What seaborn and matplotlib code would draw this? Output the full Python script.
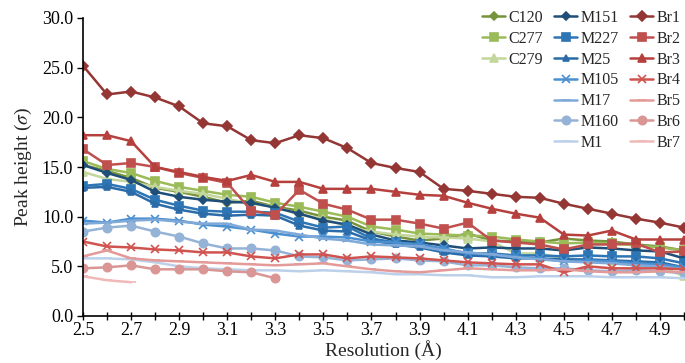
import matplotlib
matplotlib.use("Agg")
import matplotlib.pyplot as plt
from matplotlib.lines import Line2D
from matplotlib.ticker import MultipleLocator, FixedLocator
import seaborn as sns
import pandas as pd

resolution = [2.5, 2.6, 2.7, 2.8, 2.9, 3.0, 3.1, 3.2, 3.3, 3.4, 3.5, 3.6, 3.7,
              3.8, 3.9, 4.0, 4.1, 4.2, 4.3, 4.4, 4.5, 4.6, 4.7, 4.8, 4.9, 5.0]

C120 = [15.2, 14.6, 13.9, 12.9, 12.5, 12.0, 11.4, 11.6, 11.0, 10.6, 10.0, 9.6, 8.5,
        8.0, 7.6, 7.8, 8.3, 7.6, 7.5, 7.4, 7.8, 7.6, 7.5, 7.2, 7.0, 6.6]
C277 = [15.6, 14.8, 14.4, 13.6, 13.0, 12.6, 12.2, 12.0, 11.4, 11.0, 10.5, 10.0, 9.0,
        8.7, 8.3, 8.2, 8.1, 8.0, 7.7, 7.5, 7.3, 7.4, 7.3, 7.1, 6.9, 6.6]
C279 = [14.5, 13.8, 13.5, 13.0, 12.6, 12.3, 11.8, 11.3, 11.0, 10.2, 9.8, 9.0, 8.5,
        8.2, 8.0, 7.9, 7.8, 7.5, 6.3, 6.3, 5.8, 5.6, 5.5, 5.1, 5.0, 4.0]
M151 = [15.2, 14.4, 13.7, 12.5, 12.0, 11.7, 11.5, 11.4, 10.9, 10.3, 9.6, 9.2, 8.2,
        7.6, 7.4, 7.1, 6.8, 6.9, 6.8, 6.8, 6.6, 6.9, 6.8, 6.6, 6.5, 5.8]
M227 = [13.1, 13.3, 12.8, 11.7, 11.1, 10.6, 10.5, 10.5, 10.4, 9.5, 8.9, 9.0, 7.8,
        7.4, 7.2, 6.6, 6.3, 6.3, 6.1, 6.1, 6.0, 6.1, 6.0, 6.0, 5.8, 5.3]
M25 = [12.9, 13.0, 12.5, 11.3, 10.7, 10.3, 10.1, 10.2, 10.1, 9.1, 8.6, 8.5, 7.6,
       7.2, 6.9, 6.4, 6.1, 6.0, 5.8, 5.8, 5.7, 5.7, 5.6, 5.5, 5.4, 4.9]
M105 = [9.6, 9.4, 9.8, 9.8, 9.6, 9.2, 9.0, 8.7, 8.3, 8.0, 8.0, 7.9, 7.5,
        7.4, 7.2, 6.8, 6.3, 6.2, 6.0, 5.8, 5.5, 5.6, 5.5, 5.3, 5.2, 4.9]
M17 = [9.3, 9.4, 9.6, 9.7, 9.5, 9.3, 9.3, 8.7, 8.6, 8.2, 7.8, 7.6, 7.2,
       7.1, 7.0, 6.6, 6.4, 6.2, 5.9, 5.7, 5.5, 5.4, 5.3, 5.1, 5.0, 4.7]
M160 = [8.5, 8.9, 9.1, 8.5, 8.0, 7.3, 6.8, 6.8, 6.6, 6.0, 5.9, 5.6, 5.7,
        5.8, 5.6, 5.5, 5.1, 5.1, 4.9, 4.8, 4.8, 4.6, 4.5, 4.6, 4.5, 4.3]
M1 = [5.8, 5.8, 5.7, 5.4, 5.0, 4.8, 4.7, 4.6, 4.6, 4.5, 4.6, 4.5, 4.4,
      4.2, 4.2, 4.1, 4.1, 3.9, 3.9, 4.0, 4.0, 4.0, 3.9, 3.9, 3.9, 3.8]
Br1 = [25.2, 22.3, 22.6, 22.0, 21.1, 19.4, 19.1, 17.7, 17.4, 18.2, 17.9, 16.9, 15.4,
       14.9, 14.5, 12.8, 12.6, 12.3, 12.0, 11.9, 11.3, 10.8, 10.3, 9.8, 9.4, 8.9]
Br2 = [16.8, 15.2, 15.4, 15.0, 14.4, 13.9, 13.4, 10.6, 10.2, 12.7, 11.3, 10.7, 9.7,
       9.7, 9.3, 8.8, 9.4, 7.6, 7.4, 7.2, 6.7, 7.2, 7.2, 7.3, 6.4, 6.5]
Br3 = [18.2, 18.2, 17.6, 15.0, 14.5, 14.0, 13.6, 14.2, 13.5, 13.5, 12.8, 12.8, 12.8,
       12.5, 12.2, 12.1, 11.4, 10.8, 10.3, 9.9, 8.2, 8.1, 8.6, 7.7, 7.7, 7.7]
Br4 = [7.5, 7.0, 6.9, 6.7, 6.6, 6.4, 6.4, 6.0, 5.8, 6.2, 6.2, 5.8, 6.0,
       5.9, 5.8, 5.6, 5.4, 5.3, 5.2, 5.2, 4.4, 5.0, 4.8, 4.8, 4.8, 4.7]
Br5 = [6.0, 6.6, 5.8, 5.6, 5.5, 5.4, 5.3, 5.2, 5.1, 5.2, 5.3, 5.0, 4.7,
       4.5, 4.4, 4.6, 4.8, 4.7, 4.6, 4.6, 4.7, 4.5, 4.4, 4.4, 4.5, 4.4]
Br6 = [4.8, 4.9, 5.1, 4.7, 4.7, 4.7, 4.5, 4.4, 3.8]
Br7 = [4.0, 3.6, 3.4]

series = [
    ("C120", C120, "#77933c", "D", 4),
    ("C277", C277, "#9bbb59", "s", 6),
    ("C279", C279, "#c3d69b", "^", 6),
    ("M151", M151, "#1f4e79", "D", 4),
    ("M227", M227, "#2e75b6", "s", 6),
    ("M25", M25, "#2b6ca8", "^", 5),
    ("M105", M105, "#4a8fd0", "x", 6),
    ("M17", M17, "#7fa9d8", "_", 7),
    ("M160", M160, "#95b3d7", "o", 6),
    ("M1", M1, "#bcd0ea", "_", 7),
    ("Br1", Br1, "#943634", "D", 5),
    ("Br2", Br2, "#c0504d", "s", 6),
    ("Br3", Br3, "#b6403d", "^", 6),
    ("Br4", Br4, "#d0534f", "x", 6),
    ("Br5", Br5, "#e39a98", "_", 7),
    ("Br6", Br6, "#d99694", "o", 6),
    ("Br7", Br7, "#efb9b8", "_", 7),
]

sns.set_style("ticks")
plt.rcParams["font.family"] = ["Liberation Serif", "DejaVu Serif"]
plt.rcParams["mathtext.fontset"] = "stix"

fig = plt.figure(figsize=(6.85, 3.63), dpi=100)
ax = fig.add_axes([83 / 685, 1 - 316 / 363, (684 - 83) / 685, (316 - 18) / 363])

for name, vals, color, marker, ms in series:
    df = pd.DataFrame({"Resolution": resolution[:len(vals)], "Peak": vals})
    sns.lineplot(data=df, x="Resolution", y="Peak", ax=ax, color=color,
                 marker=marker, markersize=ms, markeredgecolor=color,
                 markeredgewidth=1.2, linewidth=1.8, label=name,
                 estimator=None, sort=False)

ax.set_xlim(2.5, 5.0)
ax.set_ylim(0, 30)
ax.xaxis.set_major_locator(FixedLocator([2.5, 2.7, 2.9, 3.1, 3.3, 3.5, 3.7, 3.9,
                                         4.1, 4.3, 4.5, 4.7, 4.9]))
ax.xaxis.set_minor_locator(MultipleLocator(0.1))
ax.set_xticklabels(["2.5", "2.7", "2.9", "3.1", "3.3", "3.5", "3.7", "3.9",
                    "4.1", "4.3", "4.5", "4.7", "4.9"])
ax.yaxis.set_major_locator(MultipleLocator(5))
ax.set_yticklabels([f"{v:.1f}" for v in ax.get_yticks()])
ax.tick_params(axis="x", which="both", direction="inout", length=6, width=1,
               labelsize=13, pad=1, colors="black")
ax.tick_params(axis="y", which="both", direction="out", length=4, width=1,
               labelsize=13, pad=3, colors="black")
for s in ["top", "right"]:
    ax.spines[s].set_visible(False)
for s in ["left", "bottom"]:
    ax.spines[s].set_color("black")
    ax.spines[s].set_linewidth(1.2)

ax.set_xlabel("Resolution (Å)", fontsize=14, labelpad=1)
ax.set_ylabel("Peak height ($\\sigma$)", fontsize=14, labelpad=6)

handles, labels = ax.get_legend_handles_labels()
blank = Line2D([], [], linestyle="none", marker=None)
handles = handles[:3] + [blank] * 4 + handles[3:]
labels = labels[:3] + [""] * 4 + labels[3:]
fig.legend(handles, labels, loc="upper left", bbox_to_anchor=(482 / 685, 1 - 10 / 363),
           ncol=3, frameon=False, fontsize=11.5, handlelength=1.45,
           handletextpad=0.2, columnspacing=0.7, labelspacing=0.3,
           borderaxespad=0, borderpad=0)
if ax.get_legend() is not None:
    ax.get_legend().remove()

fig.savefig("out.png", dpi=100)
